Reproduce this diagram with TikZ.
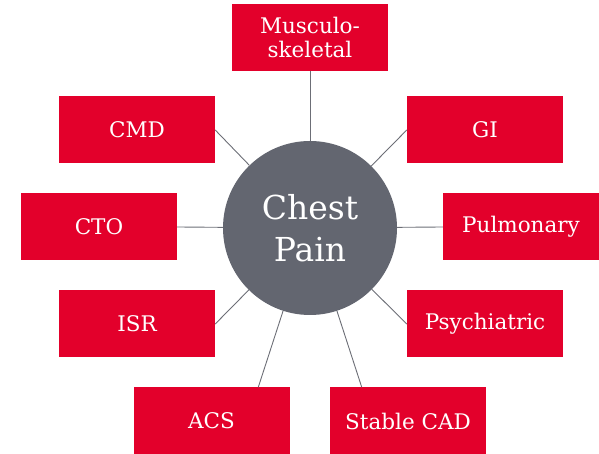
\documentclass[tikz,border=0pt]{standalone}
\usepackage{fontspec}
\setmainfont{DejaVu Serif}
\definecolor{boxred}{RGB}{227,0,43}
\definecolor{hubgray}{RGB}{99,102,112}
\definecolor{spokegray}{RGB}{108,110,118}
\tikzset{
  cause/.style={fill=boxred, text=white, minimum width=156pt, minimum height=67pt, inner sep=0pt, align=center, font=\fontsize{21.5}{24}\selectfont},
  hub/.style={circle, fill=hubgray, text=white, minimum size=174pt, inner sep=0pt, align=center, font=\fontsize{33}{42.5}\selectfont},
  spoke/.style={spokegray, line width=0.9pt}
}
\begin{document}
\begin{tikzpicture}[x=1pt, y=1pt]
            \useasboundingbox (0,0) rectangle (599,454);
            \node[hub] (chest) at (310,226) {Chest\\Pain};
            \node[cause] (musc) at (310,416.5) {Musculo-\\skeletal};
            \node[cause] (cmd) at (137,324) {CMD};
            \node[cause] (gi) at (485,324) {GI};
            \node[cause] (cto) at (99,227) {CTO};
            \node[cause] (pulm) at (521,227) {Pulmonary};
            \node[cause] (isr) at (137,130) {ISR};
            \node[cause] (psych) at (485,130) {Psychiatric};
            \node[cause] (acs) at (211.5,33) {ACS};
            \node[cause] (cad) at (408,33) {Stable CAD};
            \coordinate (acs-in) at (intersection of chest.center--chest.252 and acs.north west--acs.north east);
            \coordinate (cad-in) at (intersection of chest.center--chest.288 and cad.north west--cad.north east);
            \draw[spoke] (musc.south) -- (chest);
            \draw[spoke] (cmd.east) -- (chest);
            \draw[spoke] (gi.west) -- (chest);
            \draw[spoke] (cto.east) -- (chest);
            \draw[spoke] (pulm.west) -- (chest);
            \draw[spoke] (isr.east) -- (chest);
            \draw[spoke] (psych.west) -- (chest);
            \draw[spoke] (acs-in) -- (chest);
            \draw[spoke] (cad-in) -- (chest);
      \end{tikzpicture}
\end{document}
